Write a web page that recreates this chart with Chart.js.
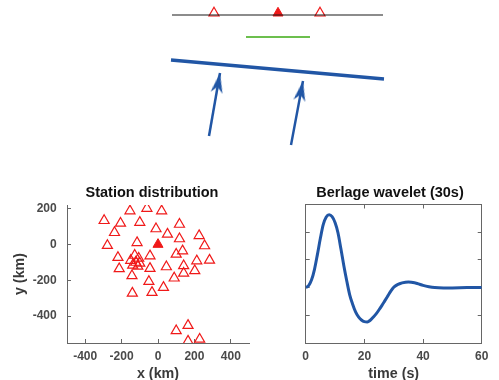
<!DOCTYPE html>
<html>
<head>
<meta charset="utf-8">
<script src="https://cdn.jsdelivr.net/npm/chart.js@4.4.1/dist/chart.umd.min.js"></script>
<style>
  html, body { margin: 0; padding: 0; background: #fff; overflow: hidden; }
  body { width: 499px; height: 380px; position: relative; }
  .panel { position: absolute; }
</style>
</head>
<body>
<div class="panel" style="left:160px;top:0;width:240px;height:150px"><canvas id="sketch"></canvas></div>
<div class="panel" style="left:0;top:180px;width:304px;height:210px"><canvas id="stations"></canvas></div>
<div class="panel" style="left:281px;top:180px;width:218px;height:210px"><canvas id="wavelet"></canvas></div>
<script>
// ---- station map (km) ----
const stationX = [-296, -154, -61, 20, -206, -100, -239, -11, 118, 52, 118, 226,
  -278, -115, 256, -220, -44, 100, 135, 283, 213, 141, 46, -44, -213,
  -128, -106, -150, -122, -100, -139, -111,
  -143, -50, 89, 141, 202, 30, -141, -33, 100, 165, 165, 229];
const stationY = [133, 187, 201, 187, 118, 123, 66, 87, 112, 57, 31, 49,
  -6, 10, -8, -73, -64, -55, -36, -88, -92, -119, -125, -134, -136,
  -61, -77, -89, -100, -105, -116, -122,
  -175, -207, -188, -161, -147, -240, -272, -268, -482, -452, -540, -529];
const refX = [0];
const refY = [0];
const mapTicksX = [-400, -200, 0, 200, 400];
const mapTicksY = [-400, -200, 0, 200];

// ---- Berlage wavelet ----
const waveT = [0, 1, 2, 3, 4, 5, 6, 7, 8, 9, 10, 11, 12, 13, 14, 15, 16, 17, 18, 19,
  20, 21, 22, 23, 24, 25, 26, 27, 28, 29, 30, 31, 32, 34, 35, 36, 38, 40, 42, 44, 47, 50, 55, 60];
const waveA = [0, 0.07, 0.28, 0.66, 1.2, 1.78, 2.28, 2.55, 2.63, 2.56, 2.35, 1.98, 1.4, 0.79, 0.24,
  -0.26, -0.6, -0.88, -1.06, -1.17, -1.23, -1.24, -1.18, -1.07, -0.95, -0.8, -0.64, -0.47, -0.3,
  -0.13, 0.01, 0.09, 0.14, 0.19, 0.2, 0.19, 0.15, 0.08, 0.03, 0, -0.01, -0.01, 0, 0];
const waveTicksX = [0, 20, 40, 60];
const waveTicksY = [-1, 0, 1, 2];

// ---- sketch on top (arbitrary units) ----
const surfaceX = [1.2, 22.3];
const surfaceY = [-1.5, -1.5];
const sketchStaX = [5.4, 16.0];
const sketchStaY = [-1.31, -1.31];
const sketchRefX = [11.8];
const sketchRefY = [-1.31];
const apertureX = [8.6, 15.0];
const apertureY = [-3.7, -3.7];
const frontX = [1.1, 22.4];
const frontY = [-6.0, -7.9];
const rayTailX = [4.9, 13.1];
const rayTailY = [-13.6, -14.5];
const rayTipX = [6.0, 14.3];
const rayTipY = [-7.3, -8.1];

const RED = "rgb(240,25,25)";
const BLUE = "#2156a5";
const AXIS = "#666";
const TICK = "#4a4a4a";
const FONT = "'Liberation Sans', Arial, sans-serif";

const pts = (xs, ys) => xs.map((x, i) => ({ x: x, y: ys[i] }));

Chart.defaults.font.family = FONT;

// arrow head: tip at the centre of the image, body pointing down
function arrowHead(color) {
  const c = document.createElement("canvas");
  c.width = 46; c.height = 46;
  const g = c.getContext("2d");
  g.fillStyle = color;
  g.beginPath();
  g.moveTo(23, 23);
  g.lineTo(29, 43);
  g.lineTo(23, 37);
  g.lineTo(17, 43);
  g.closePath();
  g.fill();
  return c;
}
const headImg = arrowHead(BLUE);

const base = {
  animation: false,
  responsive: true,
  maintainAspectRatio: false,
  devicePixelRatio: 1,
  events: [],
};

// empty axis that only reserves room on the right (keeps titles centred like the original)
const spacer = (w) => ({
  type: "linear", position: "right", min: 0, max: 1,
  grid: { display: false }, border: { display: false }, ticks: { display: false },
  afterFit: (s) => { s.width = w; },
});

// ---- sketch ----
const rayData = rayTipX.map((x, i) => ({ x: x, y: rayTipY[i], tx: rayTailX[i], ty: rayTailY[i] }));
new Chart(document.getElementById("sketch"), {
  type: "scatter",
  data: {
    datasets: [
      { data: pts(surfaceX, surfaceY), showLine: true, borderColor: "#1a1a1a", borderWidth: 1.1, pointRadius: 0 },
      { data: pts(apertureX, apertureY), showLine: true, borderColor: "#6cbf4e", borderWidth: 2, pointRadius: 0 },
      { data: pts(frontX, frontY), showLine: true, borderColor: BLUE, borderWidth: 3.5, pointRadius: 0 },
      { data: pts([rayTailX[0], rayTipX[0]], [rayTailY[0], rayTipY[0]]), showLine: true, borderColor: BLUE, borderWidth: 2.5, pointRadius: 0 },
      { data: pts([rayTailX[1], rayTipX[1]], [rayTailY[1], rayTipY[1]]), showLine: true, borderColor: BLUE, borderWidth: 2.5, pointRadius: 0 },
      {
        data: rayData, pointStyle: headImg, pointRadius: 10,
        pointRotation: (ctx) => {
          const p = ctx.raw, sc = ctx.chart.scales;
          if (!p || !sc.x) return 0;
          const dx = sc.x.getPixelForValue(p.x) - sc.x.getPixelForValue(p.tx);
          const dy = sc.y.getPixelForValue(p.y) - sc.y.getPixelForValue(p.ty);
          return Math.atan2(dx, -dy) * 180 / Math.PI;
        },
      },
      { data: pts(sketchStaX, sketchStaY), pointStyle: "triangle", pointRadius: 5.8, borderColor: RED, backgroundColor: "#fff", borderWidth: 1.2 },
      { data: pts(sketchRefX, sketchRefY), pointStyle: "triangle", pointRadius: 5.8, borderColor: RED, backgroundColor: RED, borderWidth: 1 },
    ],
  },
  options: Object.assign({}, base, {
    layout: { padding: 0, autoPadding: false },
    plugins: { legend: { display: false }, tooltip: { enabled: false } },
    datasets: { scatter: { clip: false } },
    scales: {
      x: { type: "linear", min: 0, max: 24, display: false },
      y: { type: "linear", min: -15, max: 0, display: false },
    },
  }),
});

// ---- station distribution ----
new Chart(document.getElementById("stations"), {
  type: "scatter",
  data: {
    datasets: [
      { data: pts(stationX, stationY), pointStyle: "triangle", pointRadius: 5.8, borderColor: RED, backgroundColor: "rgba(0,0,0,0)", borderWidth: 1.2 },
      { data: pts(refX, refY), pointStyle: "triangle", pointRadius: 5.8, borderColor: RED, backgroundColor: RED, borderWidth: 1 },
    ],
  },
  options: Object.assign({}, base, {
    layout: { padding: 0, autoPadding: false },
    plugins: {
      legend: { display: false },
      tooltip: { enabled: false },
      title: {
        display: true, text: "Station distribution", color: "#111",
        font: { size: 14.5, weight: "bold" }, padding: { top: 4.3, bottom: 3.3 },
      },
    },
    scales: {
      x: {
        type: "linear", min: -500, max: 500,
        afterBuildTicks: (s) => { s.ticks = mapTicksX.map((v) => ({ value: v })); },
        afterFit: (s) => { s.height = 47; },
        grid: { drawOnChartArea: false, tickLength: -4, color: AXIS },
        border: { color: AXIS },
        ticks: { color: TICK, font: { size: 12, weight: "bold" }, padding: 10.6, maxRotation: 0 },
        title: { display: true, text: "x (km)", color: "#3a3a3a", font: { size: 14.3, weight: "bold" }, padding: { top: 0, bottom: 6.9 } },
      },
      y: {
        type: "linear", min: -550, max: 220,
        afterBuildTicks: (s) => { s.ticks = mapTicksY.map((v) => ({ value: v })); },
        afterFit: (s) => { s.width = 67; },
        grid: { drawOnChartArea: false, tickLength: -4, color: AXIS },
        border: { color: AXIS },
        ticks: { color: TICK, font: { size: 12, weight: "bold" }, padding: 14.3 },
        title: { display: true, text: "y (km)", color: "#3a3a3a", font: { size: 14.3, weight: "bold" }, padding: { top: 11.4, bottom: 0 } },
      },
      pad: spacer(55),
    },
  }),
});

// ---- Berlage wavelet ----
const hiddenTicks = { display: false };
new Chart(document.getElementById("wavelet"), {
  type: "scatter",
  data: {
    datasets: [{
      data: pts(waveT, waveA), showLine: true, borderColor: BLUE, borderWidth: 3,
      pointRadius: 0, cubicInterpolationMode: "monotone",
    }],
  },
  options: Object.assign({}, base, {
    layout: { padding: 0, autoPadding: false },
    plugins: {
      legend: { display: false },
      tooltip: { enabled: false },
      title: {
        display: true, text: "Berlage wavelet (30s)", color: "#111",
        font: { size: 14.5, weight: "bold" }, padding: { top: 3.8, bottom: 3.3 },
      },
    },
    scales: {
      x: {
        type: "linear", min: 0, max: 60, position: "bottom",
        afterBuildTicks: (s) => { s.ticks = waveTicksX.map((v) => ({ value: v })); },
        afterFit: (s) => { s.height = 47; },
        grid: { drawOnChartArea: false, tickLength: -4, color: AXIS },
        border: { color: AXIS },
        ticks: { color: TICK, font: { size: 12, weight: "bold" }, padding: 10.6, maxRotation: 0 },
        title: { display: true, text: "time (s)", color: "#3a3a3a", font: { size: 14.3, weight: "bold" }, padding: { top: 0, bottom: 6.9 } },
      },
      x2: {
        type: "linear", min: 0, max: 60, position: "top",
        afterBuildTicks: (s) => { s.ticks = waveTicksX.map((v) => ({ value: v })); },
        afterFit: (s) => { s.height = 0; },
        grid: { drawOnChartArea: false, tickLength: -4, color: AXIS },
        border: { color: AXIS },
        ticks: hiddenTicks,
      },
      y: {
        type: "linear", min: -2, max: 3, position: "left",
        afterBuildTicks: (s) => { s.ticks = waveTicksY.map((v) => ({ value: v })); },
        afterFit: (s) => { s.width = 24.7; },
        grid: { drawOnChartArea: false, tickLength: -4, color: AXIS },
        border: { color: AXIS },
        ticks: hiddenTicks,
      },
      y2: {
        type: "linear", min: -2, max: 3, position: "right",
        afterBuildTicks: (s) => { s.ticks = waveTicksY.map((v) => ({ value: v })); },
        afterFit: (s) => { s.width = 10.7; },
        grid: { drawOnChartArea: false, tickLength: -4, color: AXIS },
        border: { color: AXIS },
        ticks: hiddenTicks,
      },
    },
  }),
});
</script>
</body>
</html>
